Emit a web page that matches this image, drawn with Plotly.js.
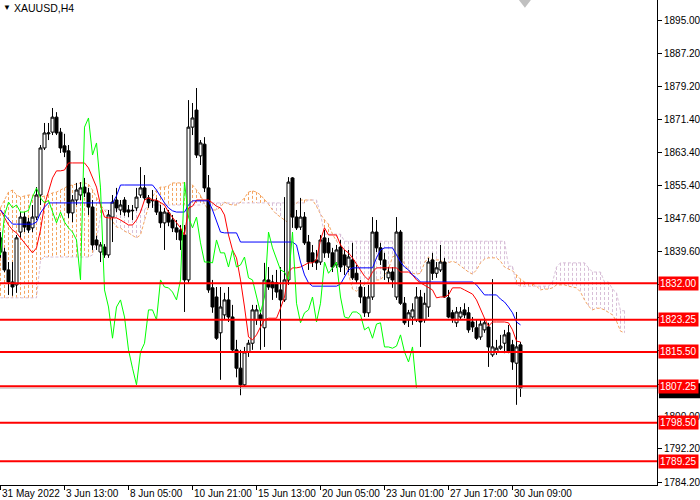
<!DOCTYPE html>
<html><head><meta charset="utf-8">
<script src="https://cdn.plot.ly/plotly-3.0.1.min.js"></script>
<style>html,body{margin:0;padding:0;background:#fff}#chart{width:700px;height:500px}</style>
</head><body><div id="chart"></div>
<script>
const symbolTitle = 'XAUUSD,H4';
const opens=[1842.9,1839.5,1835.2,1832.3,1831.6,1844.3,1847.9,1846.7,1845.3,1847.9,
1853.2,1864.5,1867.9,1868.3,1871.9,1868.3,1865.0,1863.8,1848.9,1852.0,
1853.2,1855.1,1853.7,1850.3,1842.4,1839.5,1840.7,1838.8,1847.9,1852.0,
1849.6,1852.0,1849.6,1849.4,1850.1,1853.2,1854.9,1852.5,1851.8,1851.8,
1849.1,1846.5,1848.9,1847.2,1845.3,1844.8,1843.6,1832.8,1869.5,1873.6,
1862.6,1865.4,1854.9,1830.9,1828.7,1820.1,1824.4,1828.0,1823.9,1816.0,
1811.6,1807.6,1815.5,1817.6,1823.2,1824.4,1821.3,1832.8,1832.3,1832.1,
1830.4,1828.0,1832.8,1857.3,1847.9,1845.5,1847.9,1841.9,1839.3,1837.6,
1837.1,1842.9,1841.7,1839.3,1836.4,1840.7,1838.8,1835.9,1837.6,1834.4,
1831.1,1828.7,1824.9,1828.7,1844.3,1840.5,1837.6,1833.3,1834.7,1828.7,
1844.3,1827.2,1823.2,1823.9,1823.2,1828.7,1823.2,1826.3,1837.6,1834.4,
1835.2,1837.1,1828.5,1824.9,1822.5,1823.9,1825.6,1824.9,1822.7,1821.3,
1819.1,1820.8,1821.5,1814.8,1815.5,1816.4,1817.6,1820.1,1817.2,1812.8,
1817.2];
const highs=[1844.3,1840.5,1837.1,1837.1,1843.6,1849.1,1849.1,1847.7,1850.8,1855.1,
1865.2,1870.5,1870.5,1874.1,1873.1,1869.3,1867.9,1865.2,1853.2,1856.1,
1856.3,1857.3,1854.9,1852.0,1843.4,1841.9,1841.4,1849.6,1853.2,1854.9,
1852.0,1852.7,1850.8,1850.8,1854.9,1859.9,1858.0,1853.2,1854.4,1852.5,
1850.8,1850.1,1849.6,1848.4,1847.2,1846.0,1846.0,1876.0,1875.3,1878.9,
1866.4,1867.1,1858.0,1832.8,1831.1,1831.1,1829.7,1831.1,1826.8,1818.4,
1816.0,1816.7,1818.4,1826.8,1826.8,1825.6,1836.9,1835.9,1834.0,1835.2,
1835.9,1852.7,1857.5,1857.5,1849.6,1852.5,1849.1,1843.6,1841.2,1840.0,
1843.6,1844.8,1842.9,1840.5,1841.2,1842.4,1840.0,1840.0,1841.7,1836.4,
1832.8,1831.1,1831.6,1847.9,1847.2,1841.7,1839.3,1835.9,1835.9,1847.9,
1844.8,1828.7,1825.6,1827.2,1831.1,1830.4,1829.7,1838.1,1839.3,1837.1,
1841.2,1838.1,1830.4,1825.6,1826.3,1826.3,1827.2,1826.3,1823.9,1823.2,
1823.2,1823.6,1822.5,1833.0,1818.4,1819.6,1820.8,1822.0,1818.4,1825.1,
1817.9];
const lows=[1838.1,1834.7,1829.2,1829.0,1829.7,1842.9,1844.3,1844.1,1844.3,1847.2,
1850.8,1864.0,1866.4,1867.6,1867.6,1863.3,1862.3,1847.7,1846.7,1850.8,
1852.0,1852.7,1848.4,1840.0,1840.0,1837.1,1838.1,1838.1,1841.9,1849.1,
1848.4,1848.2,1847.9,1847.2,1849.4,1852.5,1852.0,1850.1,1850.1,1848.4,
1845.3,1840.0,1845.7,1844.3,1842.4,1840.0,1825.1,1832.1,1867.6,1862.1,
1860.4,1853.9,1829.7,1824.9,1818.4,1808.8,1823.2,1822.7,1815.5,1809.4,
1805.1,1807.1,1814.3,1816.0,1822.0,1816.0,1816.7,1830.4,1828.0,1828.5,
1816.0,1827.5,1831.6,1845.3,1844.8,1844.8,1841.2,1835.2,1835.9,1835.2,
1836.4,1838.1,1838.1,1834.7,1835.7,1834.7,1834.0,1834.7,1832.8,1832.1,
1827.2,1823.9,1823.9,1828.0,1839.5,1836.4,1832.8,1832.1,1830.9,1828.0,
1826.8,1822.0,1821.5,1822.0,1822.7,1816.7,1822.5,1823.9,1832.8,1833.3,
1834.7,1828.5,1823.6,1822.5,1821.5,1823.2,1823.6,1820.1,1820.3,1818.4,
1818.4,1820.1,1811.9,1814.3,1814.8,1816.0,1815.2,1815.2,1811.2,1802.8,
1804.7];
const closes=[1839.5,1835.2,1832.3,1831.1,1842.9,1847.9,1845.5,1844.8,1847.9,1853.2,
1864.5,1868.1,1868.1,1871.9,1868.1,1864.5,1863.5,1848.9,1852.0,1854.4,
1854.9,1853.7,1850.3,1841.2,1841.2,1841.2,1838.8,1848.4,1851.5,1850.1,
1850.8,1849.1,1849.1,1849.5,1852.7,1854.9,1852.5,1851.3,1851.9,1849.1,
1846.5,1849.1,1846.7,1845.3,1844.3,1842.4,1832.8,1869.5,1871.7,1862.8,
1865.7,1854.9,1830.4,1826.3,1818.8,1826.3,1828.0,1823.9,1816.0,1811.6,
1807.6,1815.5,1817.6,1825.6,1825.6,1823.2,1832.8,1831.1,1830.9,1829.9,
1828.0,1832.8,1856.3,1847.9,1845.3,1847.9,1841.7,1837.1,1837.1,1836.9,
1842.4,1839.3,1839.3,1835.9,1840.0,1835.9,1836.4,1838.3,1833.3,1832.8,
1828.7,1824.9,1828.7,1844.3,1840.5,1837.6,1835.2,1834.7,1832.8,1844.3,
1827.2,1822.5,1824.9,1825.6,1828.7,1822.7,1827.2,1837.1,1834.4,1835.7,
1837.1,1828.7,1823.9,1823.6,1825.1,1825.1,1824.4,1820.8,1821.5,1818.8,
1822.2,1822.5,1816.7,1816.7,1816.4,1816.9,1819.6,1815.5,1813.1,1816.7,
1806.8];
const tenkan=[1849.6,1847.7,1846.0,1844.8,1844.1,1842.9,1841.7,1840.5,1839.3,1840.5,
1844.8,1850.8,1853.9,1857.3,1859.0,1859.0,1859.2,1860.9,1860.9,1860.9,
1860.9,1860.9,1859.7,1857.5,1855.1,1850.8,1847.9,1847.7,1847.7,1847.7,
1847.2,1846.5,1846.0,1846.0,1847.2,1849.1,1852.0,1852.5,1852.0,1852.0,
1851.5,1850.8,1849.1,1847.9,1846.7,1845.3,1843.6,1850.1,1850.5,1852.0,
1852.0,1852.0,1852.0,1851.3,1850.5,1850.1,1848.4,1843.6,1840.0,1838.1,
1832.8,1826.3,1819.1,1818.4,1819.6,1821.5,1823.2,1823.6,1823.6,1823.6,
1826.0,1828.7,1834.7,1835.7,1835.7,1835.9,1836.4,1836.9,1836.9,1837.6,
1842.4,1845.3,1843.6,1843.6,1843.6,1841.2,1840.0,1839.3,1838.1,1836.6,
1835.2,1833.7,1832.8,1834.7,1835.7,1835.7,1835.7,1835.7,1835.7,1835.7,
1834.7,1834.7,1834.7,1834.0,1832.8,1832.1,1831.6,1831.1,1830.4,1828.5,
1828.7,1828.7,1829.2,1830.9,1830.9,1830.9,1830.4,1829.9,1829.4,1828.0,
1825.6,1823.6,1821.7,1822.7,1822.7,1822.7,1822.7,1822.5,1820.8,1818.1,
1817.9];
const kijun=[1849.6,1848.4,1847.2,1846.2,1846.2,1846.2,1846.2,1846.2,1846.2,1846.7,
1848.9,1850.3,1851.3,1851.3,1851.3,1851.3,1851.3,1851.3,1851.3,1851.3,
1851.3,1851.3,1851.3,1851.3,1851.3,1851.3,1851.3,1851.3,1851.3,1853.0,
1855.6,1855.6,1855.6,1855.6,1855.6,1855.6,1855.6,1855.6,1855.6,1854.4,
1852.7,1851.3,1850.1,1849.4,1849.1,1849.1,1849.1,1850.8,1851.8,1851.8,
1851.8,1851.8,1851.8,1849.6,1846.7,1844.3,1844.1,1844.1,1844.1,1844.1,
1841.9,1841.9,1841.9,1841.9,1841.9,1841.9,1841.9,1841.9,1841.9,1841.9,
1841.9,1841.9,1841.9,1841.9,1841.2,1837.1,1834.0,1832.1,1831.3,1831.3,
1831.3,1831.3,1831.3,1831.3,1831.3,1831.8,1833.7,1835.2,1835.7,1835.7,
1835.7,1835.7,1835.7,1835.7,1838.1,1840.0,1840.5,1840.5,1840.5,1838.8,
1837.1,1835.9,1835.2,1834.0,1833.3,1832.3,1832.3,1832.3,1832.3,1832.3,
1832.3,1832.3,1832.3,1832.3,1832.3,1832.3,1832.3,1832.3,1832.3,1831.6,
1830.4,1829.2,1829.2,1829.2,1829.2,1828.2,1827.5,1826.3,1824.9,1822.7,
1822.0];
const spanA=[1850.1,1852.0,1853.9,1854.4,1853.2,1852.7,1853.0,1853.2,1853.2,1852.7,
1852.7,1853.0,1853.2,1853.7,1853.9,1854.4,1854.9,1855.4,1855.6,1855.8,
1856.1,1856.1,1855.8,1854.4,1852.5,1850.8,1849.6,1848.2,1846.7,1845.5,
1845.3,1844.5,1844.1,1843.4,1842.9,1843.6,1847.0,1850.5,1852.7,1854.4,
1855.1,1855.1,1855.4,1856.1,1856.1,1856.1,1856.1,1856.1,1855.6,1854.4,
1853.2,1851.0,1849.6,1849.6,1849.6,1850.3,1851.5,1851.0,1850.8,1850.8,
1851.5,1852.5,1853.9,1854.2,1853.9,1853.2,1852.2,1851.0,1849.6,1848.6,
1847.9,1847.2,1846.5,1850.5,1851.3,1852.0,1852.0,1852.0,1852.0,1850.5,
1848.6,1847.2,1846.2,1843.8,1842.1,1841.2,1837.3,1834.2,1830.6,1830.1,
1830.9,1831.8,1832.5,1832.8,1832.8,1832.8,1834.0,1835.4,1838.3,1838.8,
1838.5,1836.6,1835.2,1834.4,1834.2,1834.4,1836.9,1838.3,1837.6,1837.6,
1837.6,1836.6,1836.9,1837.3,1836.9,1836.1,1835.4,1834.7,1834.2,1835.2,
1836.9,1837.8,1838.1,1838.1,1838.1,1837.3,1835.9,1835.4,1835.0,1834.0,
1833.0,1832.3,1832.1,1831.8,1831.3,1830.4,1830.6,1830.6,1830.9,1831.6,
1831.6,1831.6,1831.3,1831.1,1830.9,1829.9,1828.0,1826.5,1825.6,1826.0,
1826.0,1825.6,1825.1,1824.4,1822.9,1820.5,1820.1];
const spanB=[1828.5,1828.5,1828.5,1828.5,1828.5,1828.5,1828.5,1828.5,1828.5,1828.5,
1837.6,1838.3,1838.3,1838.3,1838.3,1838.3,1838.3,1838.3,1838.3,1838.3,
1838.3,1838.3,1838.3,1838.8,1842.4,1848.4,1849.6,1849.6,1849.6,1849.6,
1849.6,1849.6,1849.6,1849.6,1849.6,1849.6,1849.6,1850.8,1850.8,1850.8,
1850.8,1850.8,1850.8,1850.8,1850.8,1850.8,1850.8,1850.8,1850.8,1850.8,
1850.8,1851.3,1851.3,1851.3,1851.3,1851.3,1851.3,1851.3,1851.3,1851.3,
1851.3,1851.3,1851.3,1851.3,1851.3,1851.3,1851.3,1851.3,1851.3,1851.3,
1851.3,1851.3,1851.3,1851.3,1851.3,1851.3,1851.3,1852.0,1852.0,1852.0,
1848.6,1843.8,1843.8,1843.8,1843.8,1843.8,1842.1,1842.1,1842.1,1842.1,
1842.1,1842.1,1842.1,1842.1,1842.1,1842.1,1842.1,1842.1,1842.1,1842.1,
1842.1,1842.1,1842.1,1842.1,1842.1,1842.1,1842.1,1842.1,1842.1,1842.1,
1842.1,1842.1,1842.1,1842.1,1842.1,1842.1,1842.1,1842.1,1842.1,1842.1,
1842.1,1842.1,1842.1,1842.1,1842.1,1842.1,1842.1,1836.1,1836.1,1831.6,
1831.3,1831.3,1831.3,1831.3,1831.3,1831.3,1831.3,1831.3,1832.3,1835.9,
1836.9,1836.9,1836.9,1836.9,1836.9,1836.9,1836.9,1835.7,1834.7,1834.7,
1834.7,1832.3,1832.3,1830.6,1829.7,1825.4,1825.4];
const chikouShift = 26;
const timeTickIdx=[0,16,32,48,64,80,96,112,128];
const timeTickText=['31 May 2022','3 Jun 13:00','8 Jun 05:00','10 Jun 21:00','15 Jun 13:00','20 Jun 05:00','23 Jun 01:00','27 Jun 17:00','30 Jun 09:00'];
const priceTicks=[1895.00,1887.20,1879.20,1871.40,1863.40,1855.40,1847.60,1839.60,1831.80,1823.80,1815.80,1807.80,1800.00,1792.20,1784.20];
const hiddenTicks=[1831.80,1823.80,1815.80,1807.80];
const levels=[1832.00,1823.25,1815.50,1807.25,1798.50,1789.25];
const lastPrice=1806.80;

const XR=[-0.125,164.125], YR=[1783.54,1900.04];
const xs=opens.map((_,i)=>i);
const sx=spanA.map((_,i)=>i);
const cx=closes.map((_,i)=>i-chikouShift);

const hoX=[],hoY=[],htX=[],htY=[];
for(let j=0;j<spanA.length;j++){
  const a=spanA[j],b=spanB[j];
  if(a>=b){hoX.push(j,j,null);hoY.push(a,b,null);}
  else{htX.push(j,j,null);htY.push(b,a,null);}
}
const ORANGE='#F4A460', THISTLE='#D8BFD8';
const traces=[
 {type:'scatter',mode:'lines',x:hoX,y:hoY,line:{color:ORANGE,width:1,dash:'3px,2px'},hoverinfo:'skip',connectgaps:false},
 {type:'scatter',mode:'lines',x:htX,y:htY,line:{color:THISTLE,width:1,dash:'3px,2px'},hoverinfo:'skip',connectgaps:false},
 {type:'scatter',mode:'lines',x:sx,y:spanA,line:{color:ORANGE,width:1,dash:'3px,2px'}},
 {type:'scatter',mode:'lines',x:sx,y:spanB,line:{color:THISTLE,width:1,dash:'3px,2px'}},
 {type:'candlestick',x:xs,open:opens,high:highs,low:lows,close:closes,xaxis:'x2',yaxis:'y2',
  increasing:{line:{color:'#000',width:1},fillcolor:'#fff'},
  decreasing:{line:{color:'#000',width:1},fillcolor:'#000'},whiskerwidth:0},
 {type:'scatter',mode:'lines',x:xs,y:tenkan,xaxis:'x2',yaxis:'y2',line:{color:'#FF0000',width:1}},
 {type:'scatter',mode:'lines',x:xs,y:kijun,xaxis:'x2',yaxis:'y2',line:{color:'#0000FF',width:1}},
 {type:'scatter',mode:'lines',x:cx,y:closes,xaxis:'x2',yaxis:'y2',line:{color:'#00FF00',width:1}}
];
const F='Liberation Sans';
const ann=[];
ann.push({xref:'paper',yref:'paper',x:0,y:1,xanchor:'left',yanchor:'top',xshift:1,yshift:-1,text:'▼',showarrow:false,font:{family:F,size:8,color:'#000'}});
ann.push({xref:'paper',yref:'paper',x:0,y:1,xanchor:'left',yanchor:'top',xshift:12,yshift:0,text:symbolTitle,showarrow:false,font:{family:F,size:10.5,color:'#000'}});
timeTickIdx.forEach((t,k)=>ann.push({xref:'x',yref:'paper',x:t,y:0,xanchor:'left',yanchor:'top',xshift:-1,yshift:-1,text:timeTickText[k],showarrow:false,font:{family:F,size:10,color:'#000'}}));
levels.forEach(v=>ann.push({xref:'paper',yref:'y',x:1,y:v,xanchor:'left',yanchor:'middle',xshift:1,text:v.toFixed(2),showarrow:false,bgcolor:'#FF0000',borderpad:1,font:{family:F,size:10,color:'#fff'}}));
const shapes=[];
shapes.push({type:'line',xref:'paper',x0:0,x1:1,yref:'y',y0:lastPrice,y1:lastPrice,line:{color:'#C0C0C0',width:1}});
levels.forEach(v=>shapes.push({type:'line',xref:'paper',x0:0,x1:1,yref:'y',y0:v,y1:v,line:{color:'#FF0000',width:2}}));
// current-price (bid) tag, mostly hidden behind the red level tag
shapes.push({type:'rect',xref:'paper',x0:1.003,x1:1.066,yref:'y',y0:lastPrice-2.4,y1:lastPrice+1.2,fillcolor:'#000',line:{width:0}});
shapes.push({type:'path',xref:'x',yref:'paper',path:'M 129.6,1 L 132.6,1 L 131.1,0.984 Z',fillcolor:'#C0C0C0',line:{width:0}});
const layout={
 width:700,height:500,margin:{l:0,r:43,t:0,b:15},paper_bgcolor:'#fff',plot_bgcolor:'#fff',showlegend:false,
 boxgap:0.25,boxgroupgap:0,
 xaxis:{range:XR,showgrid:false,zeroline:false,showline:true,linecolor:'#000',linewidth:1,ticks:'outside',ticklen:4,tickcolor:'#000',tickvals:timeTickIdx,showticklabels:false,rangeslider:{visible:false},fixedrange:true},
 yaxis:{range:YR,side:'right',showgrid:false,zeroline:false,showline:true,linecolor:'#000',linewidth:1,ticks:'outside',ticklen:4,tickcolor:'#000',tickvals:priceTicks,ticktext:priceTicks.map(v=>hiddenTicks.includes(v)?'':v.toFixed(2)),tickfont:{family:F,size:10,color:'#000'},fixedrange:true},
 xaxis2:{range:XR,overlaying:'x',visible:false,rangeslider:{visible:false},fixedrange:true},
 yaxis2:{range:YR,overlaying:'y',visible:false,fixedrange:true},
 annotations:ann,shapes:shapes
};
Plotly.newPlot('chart',traces,layout,{staticPlot:true,displayModeBar:false});
</script></body></html>
